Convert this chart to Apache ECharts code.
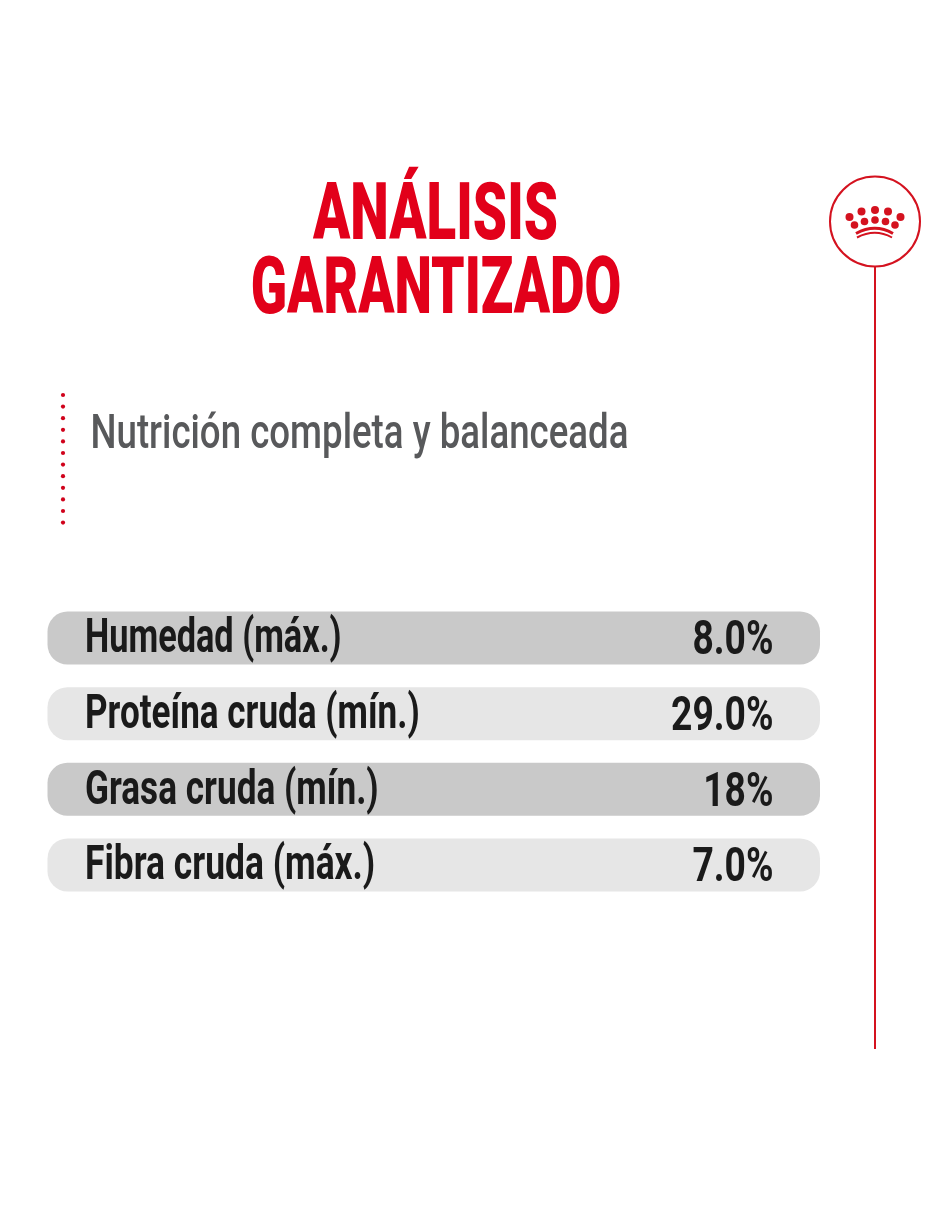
<!DOCTYPE html>
<html><head><meta charset="utf-8">
<style>html,body{margin:0;padding:0;background:#fff}#c{width:940px;height:1215px}</style>
<script src="https://cdn.jsdelivr.net/npm/echarts@6/dist/echarts.min.js"></script>
</head><body><div id="c"></div>
<script>
const titleLines = ['ANÁLISIS', 'GARANTIZADO'];
const subtitle = 'Nutrición completa y balanceada';
const nutrients = ['Humedad (máx.)', 'Proteína cruda (mín.)', 'Grasa cruda (mín.)', 'Fibra cruda (máx.)'];
const guaranteed = ['8.0%', '29.0%', '18%', '7.0%'];
const rowFills = ['#c9c9c9', '#e6e6e6', '#c9c9c9', '#e6e6e6'];
const labelSqueeze = [0.70, 0.716, 0.718, 0.722];
const RED = '#e2001a', DARK = '#1a1a1a';
const FONT = 'Roboto,"Liberation Sans",sans-serif';

function txt(x, y, text, size, fill, weight, sx, align) {
  return {type:'text', x, y, scaleX:sx, style:{text, x:0, y:0, fill, font:`${weight} ${size}px ${FONT}`, align, verticalAlign:'middle'}};
}
const dots = [];
for (let i = 0; i < 12; i++) dots.push({type:'circle', shape:{cx:63, cy:395 + i*11.6, r:2.1}, style:{fill:'#d0021b'}});
const upper = [[849.5,217],[861.5,211.5],[875,210],[888,211.5],[900.5,217]];
const lower = [[854.5,225],[864.5,221.5],[875,220],[885.5,221.5],[895,225]];
const crown = upper.map(p=>({type:'circle',shape:{cx:p[0],cy:p[1],r:4},style:{fill:'#d4121f'}}))
  .concat(lower.map(p=>({type:'circle',shape:{cx:p[0],cy:p[1],r:3.8},style:{fill:'#d4121f'}})))
  .concat([
    {type:'bezierCurve',shape:{x1:856,y1:233.5,cpx1:875,cpy1:223,x2:893,y2:233.5},style:{fill:'none',stroke:'#d4121f',lineWidth:3}},
    {type:'bezierCurve',shape:{x1:857,y1:237.5,cpx1:875,cpy1:228,x2:892,y2:237.5},style:{fill:'none',stroke:'#d4121f',lineWidth:2}}
  ]);

const chart = echarts.init(document.getElementById('c'), null, {renderer:'canvas'});
chart.setOption({
  animation:false,
  backgroundColor:'#fff',
  grid:{left:47.5, top:600.3, width:772.5, height:302.4},
  xAxis:{type:'value', min:0, max:100, show:false},
  yAxis:{type:'category', data:nutrients, inverse:true, show:false},
  graphic:[
    txt(435.5,219,titleLines[0],80,RED,900,0.685,'center'),
    txt(436,293,titleLines[1],80,RED,900,0.666,'center'),
    txt(90.5,436,subtitle,49,'#58595b',500,0.748,'left'),
    {type:'circle',shape:{cx:875,cy:221.5,r:45},style:{fill:'#fff',stroke:'#d4121f',lineWidth:2}},
    {type:'line',shape:{x1:875,y1:266,x2:875,y2:1049},style:{stroke:'#d4121f',lineWidth:2}}
  ].concat(dots,crown),
  series:[{
    type:'custom',
    coordinateSystem:'cartesian2d',
    encode:{x:0,y:1},
    data:nutrients.map((n,i)=>[100,n,guaranteed[i]]),
    renderItem(params,api){
      const i = params.dataIndex;
      const a = api.coord([0,i]), b = api.coord([100,i]);
      const h = 53;
      return {type:'group',children:[
        {type:'rect',shape:{x:a[0],y:a[1]-h/2,width:b[0]-a[0],height:h,r:20},style:{fill:rowFills[i]}},
        {type:'text',x:85,y:a[1]+2,scaleX:labelSqueeze[i],style:{text:nutrients[i],x:0,y:0,fill:DARK,font:`700 49px ${FONT}`,align:'left',verticalAlign:'middle'}},
        {type:'text',x:773.5,y:a[1]+4,scaleX:0.76,style:{text:guaranteed[i],x:0,y:0,fill:DARK,font:`700 49px ${FONT}`,align:'right',verticalAlign:'middle'}}
      ]};
    }
  }]
});
</script></body></html>
